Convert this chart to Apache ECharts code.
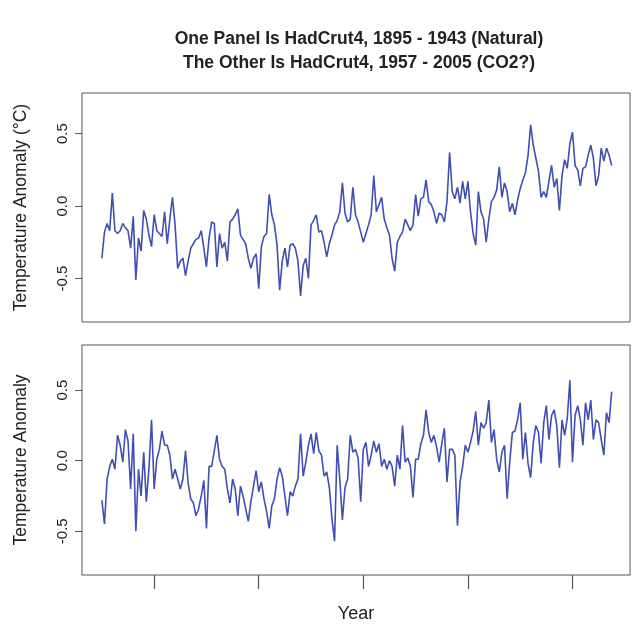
<!DOCTYPE html>
<html>
<head>
<meta charset="utf-8">
<script src="https://cdn.jsdelivr.net/npm/echarts@6/dist/echarts.min.js"></script>
<style>
  html, body { margin: 0; padding: 0; background: #ffffff; }
  #chart { width: 638px; height: 624px; }
</style>
</head>
<body>
<div id="chart"></div>
<script>
// Title lines
const titleLines = [
  'One Panel Is HadCrut4, 1895 - 1943 (Natural)',
  'The Other Is HadCrut4, 1957 - 2005 (CO2?)'
];

// Both panels share one time base: quarterly steps from the first year
const startYear = 1895;
const stepYears = 0.25;

// Upper panel: temperature anomaly (°C), quarterly
const upperAnomaly = [
  -0.36, -0.18, -0.12, -0.17, 0.09, -0.17, -0.19, -0.17, -0.12, -0.15,
  -0.17, -0.29, -0.07, -0.51, -0.22, -0.31, -0.03, -0.09, -0.20, -0.28,
  -0.06, -0.17, -0.19, -0.21, -0.04, -0.26, -0.09, 0.06, -0.13, -0.43,
  -0.38, -0.36, -0.48, -0.38, -0.29, -0.26, -0.23, -0.22, -0.17, -0.29,
  -0.42, -0.22, -0.11, -0.12, -0.42, -0.19, -0.29, -0.25, -0.38, -0.11,
  -0.09, -0.06, -0.02, -0.20, -0.23, -0.26, -0.36, -0.43, -0.36, -0.33,
  -0.57, -0.28, -0.21, -0.19, 0.08, -0.06, -0.13, -0.27, -0.58, -0.38,
  -0.29, -0.42, -0.27, -0.26, -0.29, -0.38, -0.62, -0.41, -0.36, -0.50,
  -0.13, -0.10, -0.06, -0.18, -0.17, -0.25, -0.35, -0.26, -0.20, -0.13,
  -0.10, -0.04, 0.16, -0.05, -0.11, -0.09, 0.13, -0.06, -0.11, -0.18,
  -0.25, -0.19, -0.13, -0.06, 0.21, -0.04, 0.01, 0.06, -0.09, -0.15,
  -0.20, -0.36, -0.45, -0.25, -0.21, -0.18, -0.09, -0.13, -0.17, -0.13,
  0.08, -0.07, 0.05, 0.06, 0.18, 0.03, 0.01, -0.04, -0.12, -0.05,
  -0.06, -0.11, 0.03, 0.37, 0.10, 0.05, 0.13, 0.02, 0.17, 0.05,
  0.17, -0.04, -0.19, -0.27, 0.10, -0.04, -0.09, -0.25, -0.09, 0.03,
  0.06, 0.11, 0.27, 0.06, 0.16, 0.10, -0.04, 0.02, -0.06, 0.04,
  0.12, 0.18, 0.23, 0.35, 0.56, 0.42, 0.33, 0.24, 0.06, 0.10,
  0.06, 0.17, 0.28, 0.13, 0.19, -0.03, 0.21, 0.32, 0.26, 0.43,
  0.51, 0.28, 0.25, 0.14, 0.26, 0.27, 0.35, 0.42, 0.33, 0.14,
  0.21, 0.40, 0.31, 0.40, 0.35, 0.28
];

// Lower panel: temperature anomaly, quarterly
const lowerAnomaly = [
  -0.28, -0.45, -0.13, -0.04, 0.01, -0.06, 0.18, 0.11, -0.01, 0.22,
  0.14, -0.20, 0.19, -0.50, -0.06, -0.25, 0.06, -0.29, -0.06, 0.29,
  -0.20, 0.01, 0.08, 0.21, 0.11, 0.11, 0.04, -0.13, -0.06, -0.13,
  -0.20, -0.13, 0.07, -0.16, -0.27, -0.30, -0.39, -0.34, -0.25, -0.14,
  -0.48, -0.04, -0.04, 0.07, 0.18, 0.01, -0.04, -0.06, -0.20, -0.30,
  -0.13, -0.20, -0.39, -0.18, -0.25, -0.34, -0.43, -0.29, -0.18, -0.07,
  -0.22, -0.15, -0.27, -0.36, -0.48, -0.32, -0.27, -0.13, -0.05, -0.11,
  -0.25, -0.39, -0.22, -0.25, -0.18, -0.13, 0.19, -0.11, -0.01, 0.11,
  0.19, 0.05, 0.20, 0.07, 0.04, -0.11, -0.08, -0.19, -0.41, -0.57,
  0.11, -0.13, -0.42, -0.19, -0.13, 0.18, 0.06, 0.08, 0.02, -0.29,
  0.08, 0.13, -0.04, 0.04, 0.14, 0.06, 0.12, -0.04, 0.01, -0.06,
  0.00, -0.04, -0.18, 0.04, -0.06, 0.25, -0.01, 0.02, -0.04, -0.26,
  0.01, 0.01, 0.12, 0.18, 0.36, 0.20, 0.13, 0.18, 0.10, -0.01,
  0.12, 0.23, -0.15, 0.08, 0.08, 0.04, -0.46, -0.15, -0.04, 0.11,
  0.06, 0.13, 0.21, 0.35, 0.11, 0.27, 0.23, 0.27, 0.43, 0.13,
  0.22, 0.01, -0.08, 0.06, 0.11, -0.27, -0.01, 0.20, 0.21, 0.29,
  0.41, 0.01, 0.20, -0.02, -0.12, 0.13, 0.25, 0.20, -0.02, 0.27,
  0.39, 0.15, 0.32, 0.36, 0.25, -0.05, 0.29, 0.18, 0.30, 0.57,
  -0.01, 0.32, 0.39, 0.29, 0.11, 0.41, 0.29, 0.43, 0.15, 0.29,
  0.27, 0.15, 0.04, 0.34, 0.27, 0.49
];

// Axis ticks
const yearTicks = [1900, 1910, 1920, 1930, 1940];
const anomalyTicks = [-0.5, 0.0, 0.5];

// Axis titles
const upperYTitle = 'Temperature Anomaly (°C)';
const lowerYTitle = 'Temperature Anomaly';
const xTitle = 'Year';

const FONT = '"Liberation Sans", Arial, Helvetica, sans-serif';
const INK = '#222222';
const FRAME = '#555555';
const LINE = '#3f4fb3';

function toPairs(values) {
  return values.map((v, i) => [startYear + i * stepYears, v]);
}

function yAxisFor(gridIndex, name, min, max) {
  return {
    type: 'value',
    gridIndex: gridIndex,
    min: min,
    max: max,
    name: name,
    nameLocation: 'middle',
    nameRotate: 90,
    nameGap: 52,
    nameTextStyle: { fontFamily: FONT, fontSize: 17.5, color: INK },
    splitLine: { show: false },
    axisLine: { show: false, onZero: false },
    axisTick: {
      show: true,
      customValues: anomalyTicks,
      length: 7,
      lineStyle: { color: FRAME, width: 1 }
    },
    axisLabel: {
      show: true,
      customValues: anomalyTicks,
      rotate: 90,
      margin: 12,
      fontFamily: FONT,
      fontSize: 15,
      color: INK,
      formatter: v => v.toFixed(1)
    }
  };
}

function xAxisFor(gridIndex, withTicks) {
  return {
    type: 'value',
    gridIndex: gridIndex,
    position: 'bottom',
    min: 1893.1,
    max: 1945.5,
    name: withTicks ? xTitle : '',
    nameLocation: 'middle',
    nameGap: 30,
    nameTextStyle: { fontFamily: FONT, fontSize: 18, color: INK },
    splitLine: { show: false },
    axisLine: { show: false, onZero: false },
    axisTick: {
      show: withTicks,
      customValues: yearTicks,
      length: 14,
      lineStyle: { color: FRAME, width: 1.2 }
    },
    axisLabel: { show: false }
  };
}

const chart = echarts.init(document.getElementById('chart'), null, { renderer: 'canvas' });

chart.setOption({
  animation: false,
  backgroundColor: '#ffffff',
  title: [
    {
      text: titleLines[0],
      left: 354, top: 25, textAlign: 'center',
      textStyle: { fontFamily: FONT, fontSize: 17.5, fontWeight: 'bold', color: INK }
    },
    {
      text: titleLines[1],
      left: 354, top: 49, textAlign: 'center',
      textStyle: { fontFamily: FONT, fontSize: 17.5, fontWeight: 'bold', color: INK }
    }
  ],
  grid: [
    { left: 82, top: 93, width: 548, height: 229, show: true, borderColor: FRAME, borderWidth: 1, backgroundColor: 'transparent' },
    { left: 82, top: 345, width: 548, height: 232, show: true, borderColor: FRAME, borderWidth: 1, backgroundColor: 'transparent' }
  ],
  xAxis: [xAxisFor(0, false), xAxisFor(1, true)],
  yAxis: [
    yAxisFor(0, upperYTitle, -0.80, 0.78),
    yAxisFor(1, lowerYTitle, -0.81, 0.82)
  ],
  series: [
    {
      type: 'line', xAxisIndex: 0, yAxisIndex: 0,
      data: toPairs(upperAnomaly),
      showSymbol: false, smooth: false,
      lineStyle: { color: LINE, width: 1.6 }
    },
    {
      type: 'line', xAxisIndex: 1, yAxisIndex: 1,
      data: toPairs(lowerAnomaly),
      showSymbol: false, smooth: false,
      lineStyle: { color: LINE, width: 1.6 }
    }
  ]
});
</script>
</body>
</html>
